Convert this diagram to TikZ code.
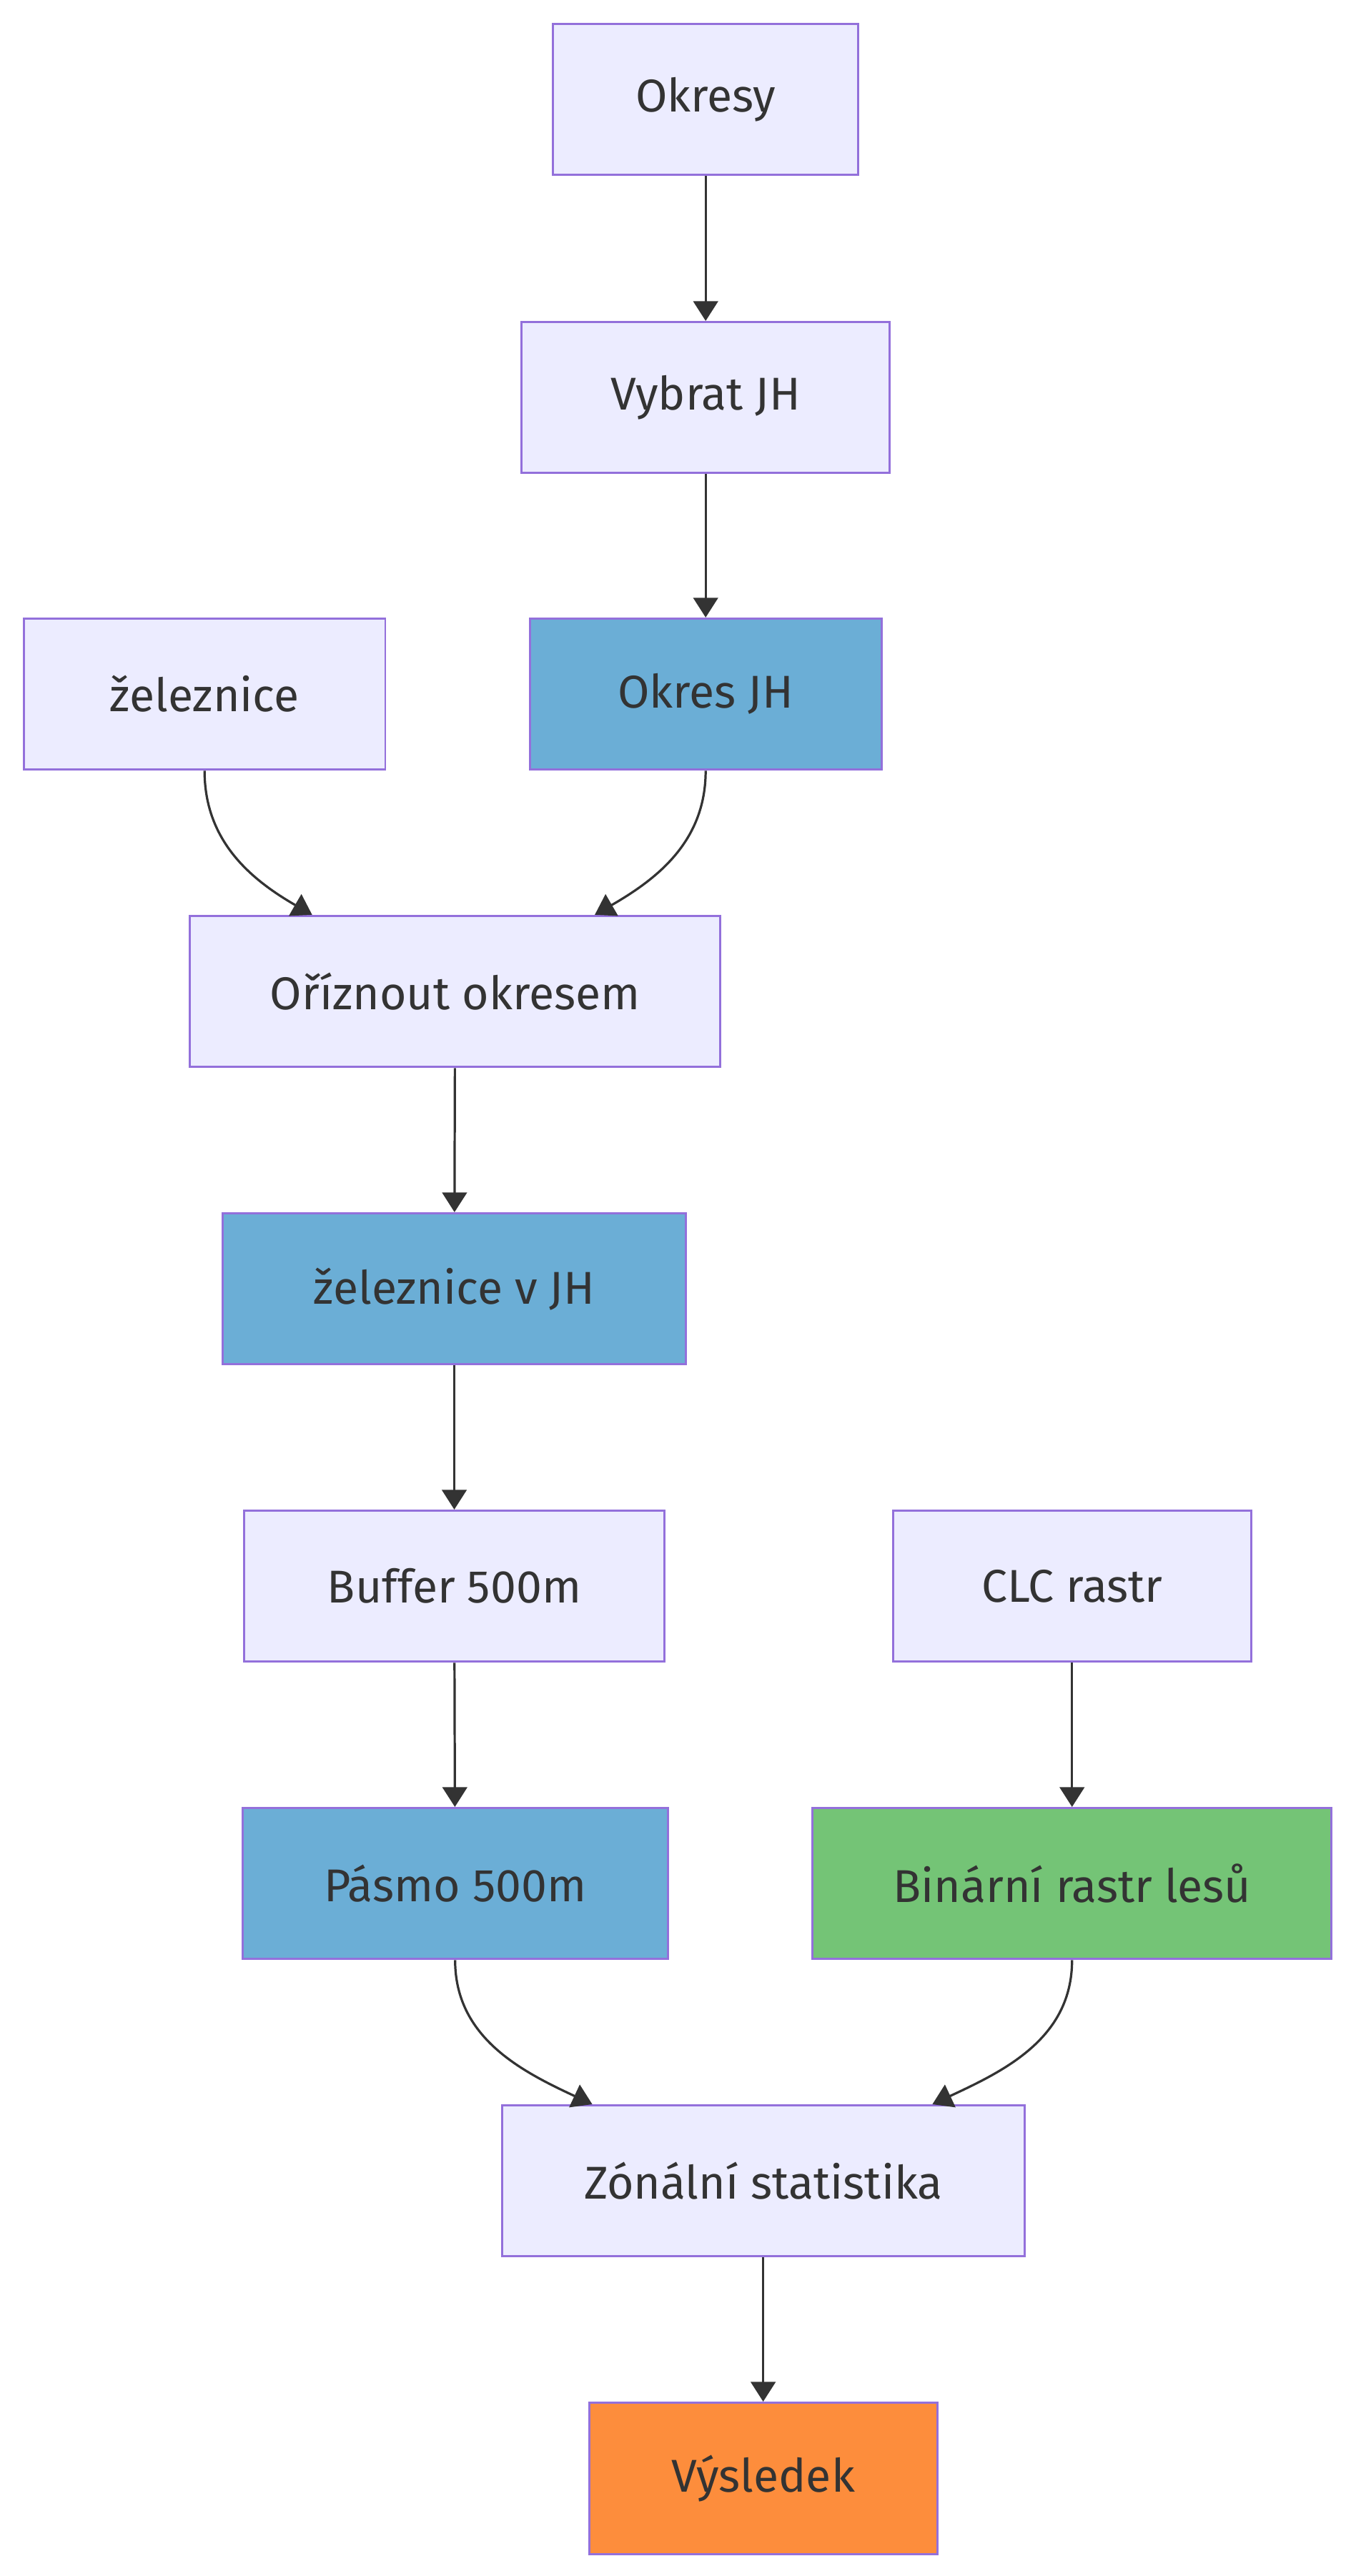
\documentclass[tikz,border=0pt]{standalone}
\usepackage{fontspec}
\setmainfont{Fira Sans}
\usetikzlibrary{arrows.meta}
\definecolor{nodefill}{HTML}{ECECFF}
\definecolor{nodeline}{HTML}{9370DB}
\definecolor{vrstvafill}{HTML}{6BAED6}
\definecolor{lesfill}{HTML}{74C476}
\definecolor{vyslfill}{HTML}{FD8D3C}
\definecolor{ink}{HTML}{333333}

\begin{document}
\begin{tikzpicture}[
    x=1pt, y=1pt,
    krok/.style={
        draw=nodeline, fill=nodefill, line width=1.3pt,
        minimum height=92pt, inner sep=0pt,
        text=ink, font=\fontsize{28}{33}\selectfont
    },
    vrstva/.style={krok, fill=vrstvafill},
    les/.style={krok, fill=lesfill},
    vysl/.style={krok, fill=vyslfill},
    tok/.style={
        draw=ink, line width=1.4pt,
        -{Triangle[length=12pt,width=15pt]}
    }
]
    \useasboundingbox (0,0) rectangle (825,-1568);

    % vstupy a vyber okresu
    \node[krok, minimum width=186pt] (okresy) at (429.5,-60.5) {Okresy};
    \node[krok, minimum width=224pt] (vybrat) at (429.5,-242) {Vybrat JH};
    \node[krok, minimum width=220pt] (zel) at (124.5,-422.5) {železnice};
    \node[vrstva, minimum width=214pt] (okresjh) at (429.5,-422.5) {Okres JH};
    \node[krok, minimum width=323pt] (orez) at (277,-603.5) {Oříznout okresem};
    \node[vrstva, minimum width=282pt] (zeljh) at (276.5,-784.5) {železnice v JH};

    % buffer a rastr
    \node[krok, minimum width=256pt] (buffer) at (276.5,-965.5) {Buffer 500m};
    \node[krok, minimum width=218pt] (clc) at (652.5,-965.5) {CLC rastr};
    \node[vrstva, minimum width=259pt] (pasmo) at (277,-1146.5) {Pásmo 500m};
    \node[les, minimum width=316pt] (binar) at (652.5,-1146.5) {Binární rastr lesů};
    \node[krok, minimum width=318pt] (zonal) at (464.5,-1327.5) {Zónální statistika};
    \node[vysl, minimum width=212pt] (vysledek) at (464.5,-1508.5) {Výsledek};

    \draw[tok] (okresy) -- (vybrat);
    \draw[tok] (vybrat) -- (okresjh);
    \draw[tok] (zel.south) to[out=-90, in=150] ([xshift=-87pt]orez.north);
    \draw[tok] (okresjh.south) to[out=-90, in=30] ([xshift=85pt]orez.north);
    \draw[tok] (orez) -- (zeljh);
    \draw[tok] (zeljh) -- (buffer);
    \draw[tok] (buffer) -- (pasmo);
    \draw[tok] (clc) -- (binar);
    \draw[tok] (pasmo.south) to[out=-90, in=155] ([xshift=-104pt]zonal.north);
    \draw[tok] (binar.south) to[out=-90, in=25] ([xshift=103pt]zonal.north);
    \draw[tok] (zonal) -- (vysledek);

\end{tikzpicture}
\end{document}
